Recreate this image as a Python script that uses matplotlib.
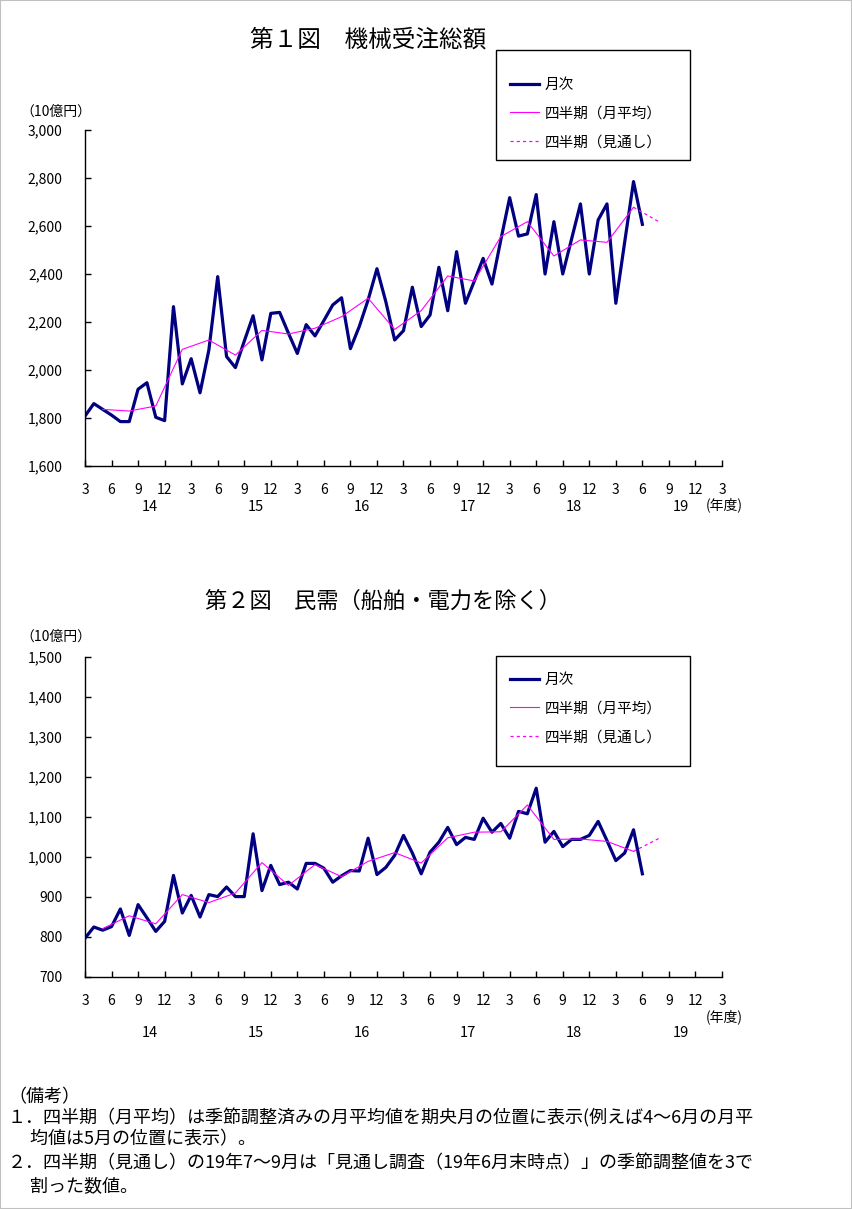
import numpy as np
import matplotlib
matplotlib.use("Agg")
import matplotlib.pyplot as plt
import matplotlib.transforms as mtransforms
from matplotlib.patches import Rectangle

plt.rcParams['font.family'] = ['Noto Sans CJK JP', 'DejaVu Sans']

# month index 0 = 2014/3 ... 63 = 2019/6
# Fig.1 machinery orders total (10 bn yen)
monthly1 = [1808, 1860, 1836, 1812, 1785, 1785, 1920, 1947, 1803, 1789,
            2264, 1942, 2047, 1905, 2083, 2389, 2056, 2010, 2120, 2226,
            2042, 2236, 2240, 2153, 2069, 2189, 2142, 2206, 2271, 2301,
            2089, 2181, 2292, 2422, 2285, 2125, 2164, 2345, 2181, 2229,
            2428, 2247, 2493, 2278, 2370, 2465, 2358, 2542, 2718, 2558,
            2567, 2731, 2400, 2618, 2400, 2546, 2692, 2400, 2625, 2692,
            2278, 2533, 2785, 2607]
quarter1 = [1836, 1829, 1850, 2086, 2125, 2062, 2165, 2150, 2174, 2222, 2299,
            2169, 2247, 2392, 2371, 2556, 2618, 2475, 2542, 2532, 2678]
outlook1 = [2678, 2615]

# Fig.2 private demand excl. ships & electric power
monthly2 = [797, 825, 817, 826, 870, 804, 881, 848, 814, 839,
            954, 860, 904, 850, 906, 901, 925, 901, 901, 1058,
            916, 979, 931, 937, 920, 984, 984, 972, 937, 953,
            966, 965, 1047, 956, 974, 1004, 1054, 1010, 958, 1012,
            1037, 1074, 1031, 1049, 1044, 1097, 1062, 1084, 1047, 1114,
            1108, 1172, 1037, 1064, 1026, 1044, 1044, 1054, 1089, 1041,
            991, 1010, 1068, 958]
quarter2 = [821, 853, 833, 906, 886, 910, 986, 929, 981, 951, 989,
            1011, 985, 1048, 1062, 1063, 1130, 1044, 1045, 1039, 1014]
outlook2 = [1014, 1048]

month_idx = np.arange(len(monthly1))
quarter_idx = np.arange(2, 63, 3)
outlook_idx = [62, 65]
tick_idx = np.arange(0, 73, 3)
tick_labels = [str((3 + i - 1) % 12 + 1) for i in tick_idx]
years = ["14", "15", "16", "17", "18", "19"]
year_pos = [7.3 + 12 * k for k in range(6)]

W, H = 852, 1209
fig = plt.figure(figsize=(W / 100, H / 100), dpi=100)


def fx(x):
    return x / W


def fy(y):
    return 1 - y / H


def draw(ax, monthly, quarter, outlook, ylim, ystep, leg_top, leg_first, year_y, nendo_y):
    ax.plot(month_idx, monthly, color="#000080", lw=2.3, label="月次")
    ax.plot(quarter_idx, quarter, color="#ff00ff", lw=0.8, label="四半期（月平均）")
    ax.plot(outlook_idx, outlook, color="#ff00ff", lw=0.9, ls=(0, (2.5, 2.5)),
            label="四半期（見通し）")
    ax.set_xlim(0, 72)
    ax.set_ylim(*ylim)
    yt = np.arange(ylim[0], ylim[1] + 1, ystep)
    ax.set_yticks(yt)
    ax.set_yticklabels([f"{v:,}" for v in yt], fontsize=10)
    ax.set_xticks(tick_idx)
    ax.set_xticklabels(tick_labels, fontsize=10)
    ax.tick_params(axis="x", direction="in", length=4, pad=12, width=1)
    ax.tick_params(axis="y", direction="in", length=4, pad=16, width=1)
    for s in ["top", "right"]:
        ax.spines[s].set_visible(False)
    for s in ["left", "bottom"]:
        ax.spines[s].set_linewidth(1)
    trans = mtransforms.blended_transform_factory(ax.transData, fig.transFigure)
    for p, lab in zip(year_pos, years):
        ax.text(p, fy(year_y), lab, transform=trans, ha="center", va="center",
                fontsize=10.5)
    fig.text(fx(706), fy(nendo_y), "(年度)", ha="left", va="center", fontsize=10)
    # legend
    fig.patches.append(Rectangle((fx(496), fy(leg_top + 110)), fx(194), 110 / H,
                                 transform=fig.transFigure, fill=False,
                                 edgecolor="black", lw=1))
    ax.legend(loc="upper left", bbox_to_anchor=(fx(510), fy(leg_first - 6)),
              bbox_transform=fig.transFigure, frameon=False, fontsize=10.5,
              handlelength=2.0, handletextpad=0.4, labelspacing=1.0,
              borderaxespad=0, borderpad=0)


ax1 = fig.add_axes([fx(85), fy(466), 637 / W, 336 / H])
draw(ax1, monthly1, quarter1, outlook1, (1600, 3000), 200, 50, 84, 507, 505)
ax2 = fig.add_axes([fx(85), fy(977), 637 / W, 320 / H])
draw(ax2, monthly2, quarter2, outlook2, (700, 1500), 100, 656, 679, 1033, 1017)

fig.text(fx(368), fy(40), "第１図　機械受注総額", ha="center", va="center", fontsize=17)
fig.text(fx(383), fy(601), "第２図　民需（船舶・電力を除く）", ha="center", va="center",
         fontsize=16)
fig.text(fx(20), fy(112), "（10億円）", ha="left", va="center", fontsize=10)
fig.text(fx(20), fy(637), "（10億円）", ha="left", va="center", fontsize=10)

notes = [
    (8, 1097, "（備考）"),
    (8, 1118, "１．四半期（月平均）は季節調整済みの月平均値を期央月の位置に表示(例えば4～6月の月平"),
    (8, 1139, "　 均値は5月の位置に表示）。"),
    (8, 1163, "２．四半期（見通し）の19年7～9月は「見通し調査（19年6月末時点）」の季節調整値を3で"),
    (8, 1186, "　 割った数値。"),
]
for x, y, t in notes:
    fig.text(fx(x), fy(y), t, ha="left", va="center", fontsize=13)

fig.patches.append(Rectangle((0, 0), 1, 1, transform=fig.transFigure, fill=False,
                             edgecolor="#c0c0c0", lw=1.5))

fig.savefig("out.png", dpi=100)
